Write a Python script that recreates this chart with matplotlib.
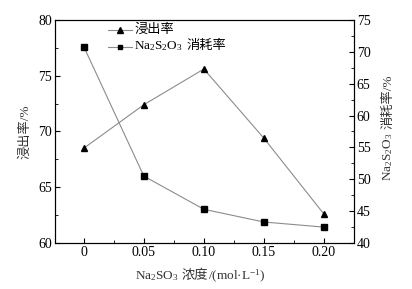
import matplotlib
matplotlib.use("Agg")
import matplotlib.pyplot as plt
from matplotlib.lines import Line2D
from matplotlib.ticker import MultipleLocator

# Data
conc = [0, 0.05, 0.10, 0.15, 0.20]
leach_rate = [68.5, 72.4, 75.6, 69.4, 62.6]        # 浸出率 / %
consume_rate = [70.8, 50.5, 45.3, 43.3, 42.5]      # Na2S2O3 消耗率 / %
xtick_labels = ["0", "0.05", "0.10", "0.15", "0.20"]

SERIF = "Liberation Serif"
CJK = "Noto Sans CJK SC"
plt.rcParams["font.family"] = [SERIF, CJK]
plt.rcParams["mathtext.fontset"] = "custom"
plt.rcParams["mathtext.rm"] = SERIF
plt.rcParams["mathtext.it"] = SERIF + ":italic"
plt.rcParams["font.size"] = 9

LINE_C = "#8c8c8c"
TEXT_C = "#333333"
LBL_FS = 9.5

fig = plt.figure(figsize=(4.12, 2.89), dpi=100)
ax = fig.add_axes([0.1335, 0.159, 0.7255, 0.772])
ax2 = ax.twinx()

ax.plot(conc, leach_rate, color=LINE_C, lw=0.8, marker="^", markersize=5,
        markerfacecolor="black", markeredgecolor="black")
ax2.plot(conc, consume_rate, color=LINE_C, lw=0.8, marker="s", markersize=4,
         markerfacecolor="black", markeredgecolor="black")

ax.set_xlim(-0.024, 0.225)
ax.set_ylim(60, 80)
ax2.set_ylim(40, 75)
ax.set_xticks(conc)
ax.set_xticklabels(xtick_labels)
ax.xaxis.set_minor_locator(MultipleLocator(0.025))
ax.yaxis.set_major_locator(MultipleLocator(5))
ax.yaxis.set_minor_locator(MultipleLocator(2.5))
ax2.yaxis.set_major_locator(MultipleLocator(5))
ax2.yaxis.set_minor_locator(MultipleLocator(2.5))

for a in (ax, ax2):
    a.tick_params(which="both", direction="in", labelsize=10, pad=2)
    a.tick_params(which="major", length=3.5)
    a.tick_params(which="minor", length=2)
ax.tick_params(axis="x", which="both", top=False)

ax.set_ylabel("浸出率/%", fontsize=LBL_FS, color=TEXT_C, labelpad=5)


# mathtext can't fall back to CJK glyphs, so mixed labels are laid out
# piece by piece (baseline aligned) in pixel space
def chain_text(parts, cx, cy, rotation=0, fs=LBL_FS):
    """parts: list of strings; (cx, cy) = centre in pixels, y from top."""
    H = fig.get_figheight() * fig.dpi
    rend = fig.canvas.get_renderer()
    texts = []
    pos = 0.0
    for s in parts:
        gap = fs * 0.35 if s.endswith(" ") else 0.0
        t = fig.text(0, 0, s.rstrip(), fontsize=fs, color=TEXT_C,
                     rotation=rotation, rotation_mode="anchor", ha="left",
                     va="baseline", transform=None)
        if rotation == 0:
            t.set_position((pos, 0))
            pos += t.get_window_extent(rend).width + gap
        else:
            t.set_position((0, pos))
            pos += t.get_window_extent(rend).height + gap
        texts.append(t)
    bbs = [t.get_window_extent(rend) for t in texts]
    x0 = min(b.x0 for b in bbs); x1 = max(b.x1 for b in bbs)
    y0 = min(b.y0 for b in bbs); y1 = max(b.y1 for b in bbs)
    dx = cx - (x0 + x1) / 2
    dy = (H - cy) - (y0 + y1) / 2
    for t in texts:
        x, y = t.get_position()
        t.set_position((x + dx, y + dy))
    return texts


def chain_left(parts, lx, cy, fs=LBL_FS):
    """horizontal chain starting at left x, vertically centred at cy."""
    H = fig.get_figheight() * fig.dpi
    rend = fig.canvas.get_renderer()
    texts = []
    pos = lx
    for s in parts:
        gap = fs * 0.35 if s.endswith(" ") else 0.0
        t = fig.text(pos, 0, s.rstrip(), fontsize=fs, color="black",
                     ha="left", va="baseline", transform=None)
        pos += t.get_window_extent(rend).width + gap
        texts.append(t)
    ref = texts[0].get_window_extent(rend)
    dy = (H - cy) - (ref.y0 + ref.y1) / 2
    for t in texts:
        x, y = t.get_position()
        t.set_position((x, y + dy))
    return texts


fig.canvas.draw()

chain_text(["Na$_2$SO$_3$ ", "浓度", "/(mol·L$^{-1}$)"], 200, 276)
chain_text(["Na$_2$S$_2$O$_3$ ", "消耗率/%"], 388, 128, rotation=90)

# legend (drawn by hand so the mixed label can be chained)
H = fig.get_figheight() * fig.dpi
W = fig.get_figwidth() * fig.dpi
for yy, mk, ms in [(30, "^", 4), (47, "s", 3.5)]:
    fig.add_artist(Line2D([108 / W, 132 / W], [1 - yy / H, 1 - yy / H],
                          transform=fig.transFigure, color=LINE_C, lw=0.8))
    fig.add_artist(Line2D([120 / W], [1 - yy / H], transform=fig.transFigure,
                          marker=mk, markersize=ms, color="black",
                          linestyle="none"))
chain_left(["浸出率"], 134, 30)
chain_left(["Na$_2$S$_2$O$_3$ ", "消耗率"], 134, 46)

fig.savefig("out.png", dpi=100)
